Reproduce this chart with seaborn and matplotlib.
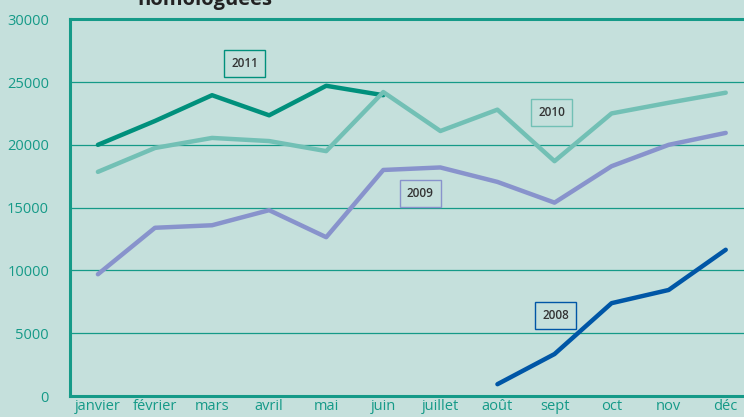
import pandas as pd
import numpy as np
import matplotlib
matplotlib.use("Agg")
import matplotlib.pyplot as plt
import seaborn as sns

months = ["janvier", "février", "mars", "avril", "mai", "juin",
          "juillet", "août", "sept", "oct", "nov", "déc"]
vals_2011 = [20000, 21900, 23950, 22350, 24700, 23950]
vals_2010 = [17850, 19750, 20550, 20300, 19500, 24200, 21100, 22800, 18700, 22500, 23350, 24150]
vals_2009 = [9700, 13400, 13600, 14800, 12650, 18000, 18200, 17050, 15400, 18300, 20000, 20950]
vals_2008 = [950, 3350, 7400, 8450, 11650]
years = ["2011", "2010", "2009", "2008"]

# long table for seaborn
rows = []
for yr, vals, start in [("2011", vals_2011, 0), ("2010", vals_2010, 0),
                        ("2009", vals_2009, 0), ("2008", vals_2008, 7)]:
    for i, v in enumerate(vals):
        rows.append({"mois": start + i, "valeur": v, "annee": yr})
df = pd.DataFrame(rows)

bg = "#c5e0dc"
teal = "#159a88"
colors = {"2011": "#00907c", "2010": "#72c0b5", "2009": "#8893cc", "2008": "#0056a6"}

sns.set_style("white")
plt.rcParams["font.family"] = ["Open Sans", "DejaVu Sans"]

fig = plt.figure(figsize=(7.44, 4.17), dpi=100, facecolor=bg)
ax = fig.add_axes([0.094, 0.05, 0.906, 0.904])
ax.set_facecolor(bg)

sns.lineplot(data=df, x="mois", y="valeur", hue="annee", palette=colors,
             hue_order=years, linewidth=3.2, sort=False, legend=False, ax=ax)

ax.set_yticks(range(0, 30001, 5000))
ax.set_yticklabels([str(v) for v in range(0, 30001, 5000)], color=teal, fontsize=10.5)
ax.set_xticks(range(12))
ax.set_xticklabels(months, color=teal, fontsize=10.5)
ax.set_xticks(np.arange(-0.5, 11.6, 1), minor=True)
ax.tick_params(axis="x", which="major", length=0, pad=2)
ax.tick_params(axis="x", which="minor", length=4, width=1.2, color=teal, direction="in")
ax.tick_params(axis="y", length=3, width=1.2, color=teal, pad=12)
ax.set_ylim(0, 30000)
ax.set_xlim(-0.49, 11.32)
for yv in range(5000, 30000, 5000):
    ax.axhline(yv, color=teal, linewidth=0.9, zorder=0)
ax.set_xlabel("")
ax.set_ylabel("")
for s in ["left", "bottom", "top"]:
    ax.spines[s].set_color(teal)
    ax.spines[s].set_linewidth(2.2)
ax.spines["right"].set_visible(False)

# year labels in boxes
labels_pos = {"2011": (2.57, 26500), "2010": (7.95, 22600),
              "2009": (5.65, 16150), "2008": (8.02, 6450)}
for yr, (lx, ly) in labels_pos.items():
    ax.text(lx, ly, yr, ha="center", va="center", fontsize=8.5, fontweight="semibold",
            color="#333333",
            bbox=dict(boxstyle="square,pad=0.6", facecolor=bg,
                      edgecolor=colors[yr], linewidth=1))

fig.text(0.276, 0.988, "homologuées", ha="center", va="baseline",
         fontsize=14.5, fontweight="bold", color="#222222")

fig.savefig("out.png", dpi=100, facecolor=bg)
